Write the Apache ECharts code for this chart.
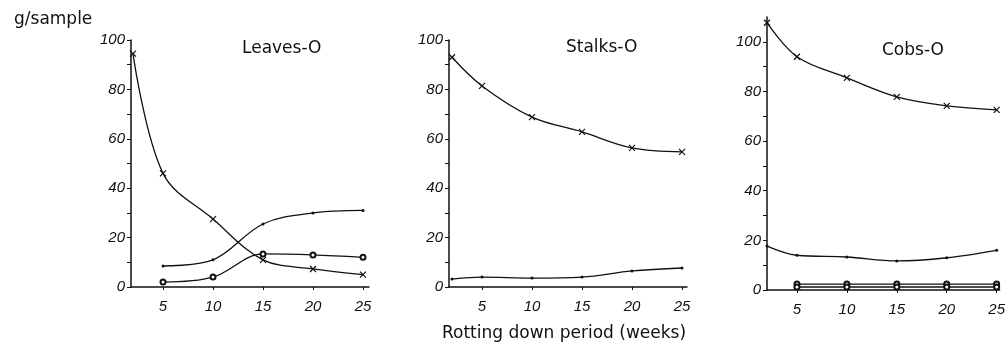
<!DOCTYPE html>
<html>
<head>
<meta charset="utf-8">
<script src="https://cdn.jsdelivr.net/npm/echarts@6/dist/echarts.min.js"></script>
<style>
  html, body { margin: 0; padding: 0; background: #fff; }
  #chart { width: 1008px; height: 350px; }
</style>
</head>
<body>
<div id="chart"></div>
<script>
// weeks sampled
const weeksAll = [2, 5, 10, 15, 20, 25];
const weeksLate = [5, 10, 15, 20, 25];
const xTicks = [5, 10, 15, 20, 25];
const yTicks = [0, 20, 40, 60, 80, 100];
const yMinor = [0, 10, 20, 30, 40, 50, 60, 70, 80, 90, 100];

// Leaves-O
const leavesCross = [94.5, 46, 27.5, 11, 7.3, 5];
const leavesDot = [8.5, 11, 25.5, 30, 31];
const leavesCircle = [2, 4, 13.4, 13, 12];

// Stalks-O
const stalksCross = [93, 81.4, 68.8, 62.8, 56.3, 54.7];
const stalksDot = [3.2, 4, 3.6, 4, 6.5, 7.7];

// Cobs-O
const cobsCross = [107.7, 94, 85.5, 77.8, 74.2, 72.6];
const cobsDot = [17.7, 14, 13.3, 11.7, 13, 16];
const cobsCircleA = [2.4, 2.4, 2.4, 2.4, 2.4];
const cobsCircleB = [1.2, 1.2, 1.2, 1.2, 1.2];

const chart = echarts.init(document.getElementById('chart'));
const ink = '#111';
const crossPath = 'path://M0,0L10,10M10,0L0,10';
const pair = (xs, ys) => xs.map((x, i) => [x, ys[i]]);

function makeX(idx, min, max) {
  return {
    gridIndex: idx, type: 'value', min: min, max: max,
    axisLine: { show: true, onZero: false, lineStyle: { color: ink, width: 1.5 } },
    axisTick: { show: true, customValues: xTicks, length: 3, lineStyle: { color: ink } },
    axisLabel: {
      customValues: xTicks, margin: 12, color: ink, fontSize: 15,
      fontStyle: 'italic', fontFamily: 'Liberation Sans'
    },
    splitLine: { show: false }
  };
}

function makeY(idx, max) {
  return {
    gridIndex: idx, type: 'value', min: 0, max: max,
    axisLine: { show: true, lineStyle: { color: ink, width: 1.5 } },
    axisTick: { show: true, customValues: yMinor, length: 4, lineStyle: { color: ink } },
    axisLabel: {
      customValues: yTicks, margin: 6, color: ink, fontSize: 15,
      fontStyle: 'italic', fontFamily: 'Liberation Sans'
    },
    splitLine: { show: false }
  };
}

function line(idx, data, symbol, size) {
  return {
    type: 'line', xAxisIndex: idx, yAxisIndex: idx, data: data,
    smooth: 0.35, symbol: symbol, symbolSize: size,
    lineStyle: { color: ink, width: 1.3 },
    itemStyle: symbol === 'emptyCircle'
      ? { color: ink, borderColor: ink, borderWidth: 1 }
      : symbol === crossPath
        ? { color: 'transparent', borderColor: ink, borderWidth: 1.2 }
        : { color: ink },
    silent: true, animation: false
  };
}

const titleFont = { fontSize: 17, fontWeight: 'normal', color: ink, fontFamily: 'DejaVu Sans' };

const option = {
  animation: false,
  title: [
    { text: 'Leaves-O', left: 237, top: 35, textStyle: titleFont },
    { text: 'Stalks-O', left: 561, top: 34, textStyle: titleFont },
    { text: 'Cobs-O', left: 877, top: 37, textStyle: titleFont },
    { text: 'g/sample', left: 9, top: 6, textStyle: titleFont },
    { text: 'Rotting down period (weeks)', left: 437, top: 320, textStyle: titleFont }
  ],
  grid: [
    { left: 131, top: 40, width: 238, height: 247 },
    { left: 449, top: 40, width: 238, height: 247 },
    { left: 767, top: 17, width: 233, height: 273 }
  ],
  xAxis: [makeX(0, 1.8, 25.6), makeX(1, 1.7, 25.5), makeX(2, 2, 25.3)],
  yAxis: [makeY(0, 100), makeY(1, 100), makeY(2, 110)],
  series: [
    line(0, pair(weeksAll, leavesCross), crossPath, 6),
    line(0, pair(weeksLate, leavesDot), 'circle', 3),
    line(0, pair(weeksLate, leavesCircle), 'emptyCircle', 5),
    line(1, pair(weeksAll, stalksCross), crossPath, 6),
    line(1, pair(weeksAll, stalksDot), 'circle', 3),
    line(2, pair(weeksAll, cobsCross), crossPath, 6),
    line(2, pair(weeksAll, cobsDot), 'circle', 3),
    line(2, pair(weeksLate, cobsCircleA), 'emptyCircle', 5),
    line(2, pair(weeksLate, cobsCircleB), 'emptyCircle', 5)
  ]
};
chart.setOption(option);
</script>
</body>
</html>
